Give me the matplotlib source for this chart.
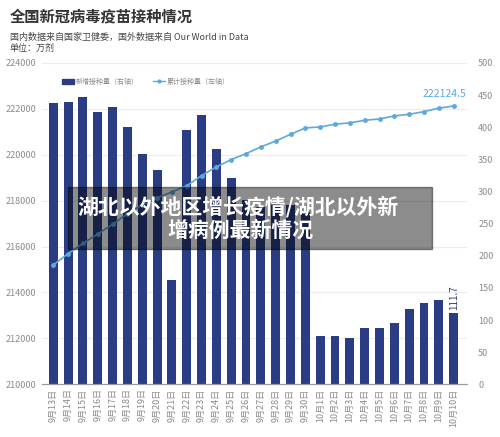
import matplotlib.pyplot as plt
from matplotlib.patches import Rectangle
from matplotlib.lines import Line2D

plt.rcParams['font.family'] = ['Noto Sans CJK SC', 'DejaVu Sans']

# dates
dates = ['9月%d日' % d for d in range(13, 31)] + ['10月%d日' % d for d in range(1, 11)]

# new doses per day (right axis, 万剂)
daily = [437.7, 439.0, 447.5, 423.0, 431.0, 400.0, 358.7, 333.0, 161.5, 395.6,
         418.5, 366.5, 321.0, 287.0, 276.0, 282.0, 279.0, 268.0, 75.7, 75.7,
         72.6, 87.2, 87.2, 95.5, 117.8, 126.2, 130.8, 111.7]

# cumulative doses (left axis, 万剂)
total = [215200, 215690, 216140, 216550, 216970, 217430, 217820, 218120, 218380, 218650,
         219090, 219470, 219790, 220050, 220340, 220600, 220890, 221170, 221210, 221330,
         221390, 221500, 221560, 221690, 221760, 221880, 222030, 222124.5]

left_ticks = list(range(210000, 224001, 2000))
right_ticks = list(range(0, 501, 50))

bar_color = '#2a3d84'
line_color = '#5fa8dc'
grey = '#8a8a8a'

fig = plt.figure(figsize=(5, 4.37), dpi=100)
ax = fig.add_axes([0.084, 0.1206, 0.85, 0.7354])   # bars, right axis
ax2 = ax.twinx()                                   # cumulative, left axis

x = list(range(len(dates)))

# grid lines follow the left axis
lo, hi = left_ticks[0], left_ticks[-1]
for v in left_ticks[1:]:
    ax.axhline((v - lo) / (hi - lo) * 500, color='#ececec', lw=0.8, zorder=0)

ax.bar(x, daily, width=0.6, color=bar_color, zorder=2)
ax.set_ylim(0, 500)
ax.set_yticks(right_ticks)
ax.yaxis.tick_right()
ax.set_xlim(-0.76, 27.9)
ax.set_xticks(x)
ax.set_xticklabels(dates, rotation=90, fontsize=6.5, color=grey)
ax.tick_params(axis='x', length=0, pad=3)
ax.tick_params(axis='y', length=0, labelsize=6.5, labelcolor=grey, pad=8)
ax.text(x[-1], daily[-1] + 4, '111.7', rotation=90, ha='center', va='bottom',
        fontsize=7, color=bar_color)

ax2.plot(x, total, color=line_color, lw=1.2, marker='o', ms=2.5, zorder=3)
ax2.set_ylim(lo, hi)
ax2.set_yticks(left_ticks)
ax2.yaxis.tick_left()
ax2.tick_params(axis='y', length=0, labelsize=6.5, labelcolor=grey, pad=4)
ax2.text(x[-1] - 0.6, total[-1] + 300, '222124.5', ha='center', va='bottom',
         fontsize=7.5, color=line_color)

for a in (ax, ax2):
    for s in ('top', 'left', 'right'):
        a.spines[s].set_visible(False)
    a.spines['bottom'].set_color('#9a9a9a')
    a.spines['bottom'].set_linewidth(0.8)

# legend
handles = [Rectangle((0, 0), 1, 1, color=bar_color),
           Line2D([0], [0], color=line_color, lw=1, marker='o', ms=2)]
fig.legend(handles, ['新增接种量（右轴）', '累计接种量（左轴）'], loc='center left',
           bbox_to_anchor=(0.112, 0.813), ncol=2, frameon=False, fontsize=5,
           labelcolor=grey, handlelength=1.7, handleheight=0.8, columnspacing=2.0,
           handletextpad=0.3)

# titles
fig.text(0.02, 0.962, '全国新冠病毒疫苗接种情况', fontsize=11, fontweight='bold',
         color='#333333', va='center')
fig.text(0.02, 0.915, '国内数据来自国家卫健委，国外数据来自 Our World in Data', fontsize=6.5,
         color='#444444', va='center')
fig.text(0.02, 0.889, '单位：万剂', fontsize=6.5, color='#444444', va='center')

# overlay banner
fig.patches.append(Rectangle((0.136, 0.430), 0.728, 0.142, transform=fig.transFigure,
                             color='black', alpha=0.45, zorder=5))
fig.text(0.476, 0.526, '湖北以外地区增长疫情/湖北以外新', fontsize=15, fontweight='bold',
         color='white', ha='center', va='center', zorder=6)
fig.text(0.48, 0.473, '增病例最新情况', fontsize=15, fontweight='bold',
         color='white', ha='center', va='center', zorder=6)

fig.savefig('out.png', dpi=100)
